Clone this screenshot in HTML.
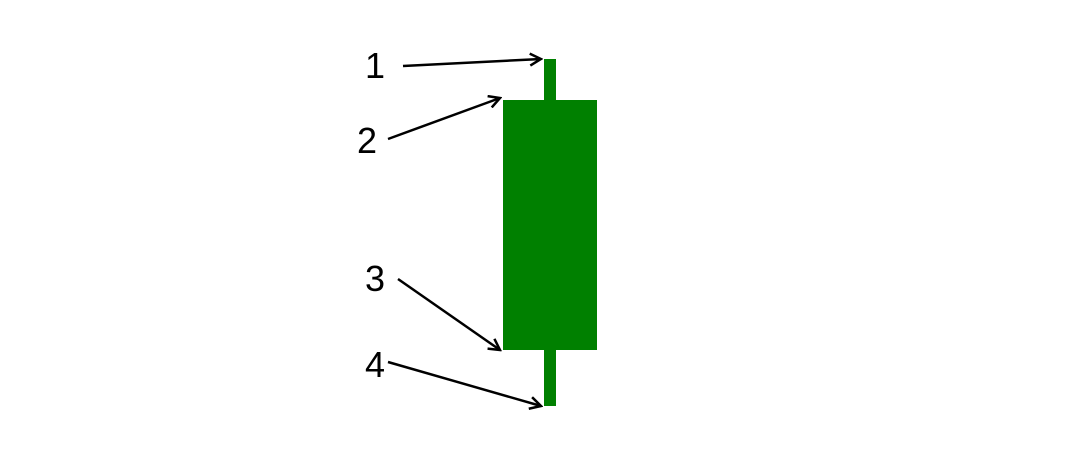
<!DOCTYPE html>
<html><head><meta charset="utf-8"><style>
html,body{margin:0;padding:0;background:#fff;}
svg{display:block;}
text{font-family:"Liberation Sans",sans-serif;font-size:36px;fill:#000;}
</style></head><body>
<svg id="chart" width="1088" height="469" viewBox="0 0 1088 469">
<defs><marker id="ah" markerWidth="14" markerHeight="14" refX="12" refY="7" orient="auto" markerUnits="userSpaceOnUse">
<path d="M1,1 L12,7 L1,13" fill="none" stroke="#000" stroke-width="2.5"/></marker></defs>
<g id="marks"></g>
</svg>
<script>
const categories = ["candle"];
const openVals = [40];
const highVals = [98.2];
const lowVals = [28.8];
const closeVals = [90];
const labelTexts = ["1","2","3","4"];

function y(v){ return 350 - (v - 40) * 5; }
function xc(i){ return 550 + i * 120; }

const ns = "http://www.w3.org/2000/svg";
const g = document.getElementById('marks');
function mk(tag, attrs){ const e=document.createElementNS(ns,tag); for(const k in attrs) e.setAttribute(k,attrs[k]); g.appendChild(e); return e; }

categories.forEach((c,i)=>{
  const cx = xc(i);
  const color = closeVals[i] >= openVals[i] ? "#008000" : "#d00000";
  const w = mk('rect',{x:cx-6,y:y(highVals[i]),width:12,height:y(lowVals[i])-y(highVals[i]),fill:color});
  
  
  const top = y(Math.max(openVals[i],closeVals[i])), bot = y(Math.min(openVals[i],closeVals[i]));
  const b = mk('rect',{x:cx-47,y:top,width:94,height:bot-top,fill:color});
  
  

  const targets = [
    [cx-9, y(highVals[i])],
    [cx-50, top-2],
    [cx-50, bot],
    [cx-9, y(lowVals[i])]
  ];
  const starts = [[403,66],[388,139],[398,279],[388,362]];
  const lpos = [[375,78],[367,153],[375,291],[375,377]];
  const names = ['high','close','open','low'];
  for(let k=0;k<4;k++){
    const a = mk('line',{x1:starts[k][0],y1:starts[k][1],x2:targets[k][0],y2:targets[k][1],stroke:"#000","stroke-width":2.5,"marker-end":"url(#ah)"});
    
    
    const t = mk('text',{x:lpos[k][0],y:lpos[k][1],"text-anchor":"middle"});
    t.textContent = labelTexts[k];
    
    
  }
});
</script>
</body></html>
